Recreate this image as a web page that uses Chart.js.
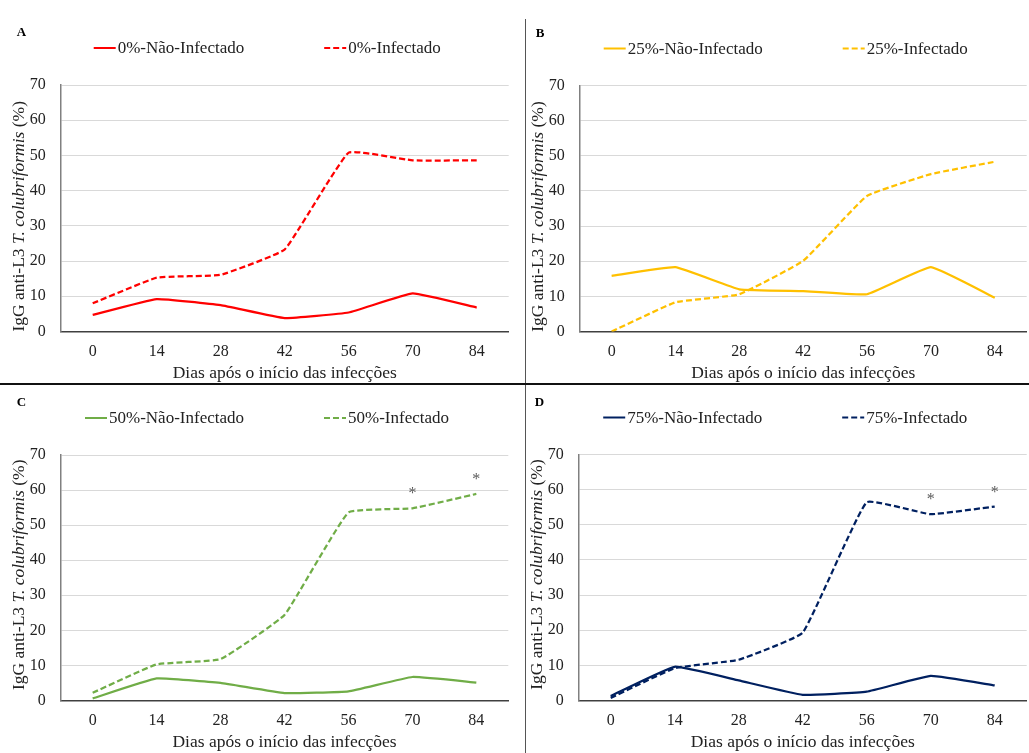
<!DOCTYPE html>
<html><head><meta charset="utf-8">
<script src="https://cdn.jsdelivr.net/npm/chart.js@4.4.0/dist/chart.umd.min.js"></script>
<style>
html,body{margin:0;padding:0;background:#fff;overflow:hidden}
#wrap{position:relative;width:1029px;height:753px}
.pn{position:absolute}
.vl{position:absolute;left:524.5px;top:19px;width:1.5px;height:734px;background:#555}
.hl{position:absolute;left:0;top:383px;width:1029px;height:2px;background:#111}
</style></head><body>
<div id="wrap">
  <div class="pn" style="left:0;top:0;width:525px;height:384px"><canvas id="cA"></canvas></div>
  <div class="pn" style="left:526px;top:0;width:503px;height:384px"><canvas id="cB"></canvas></div>
  <div class="pn" style="left:0;top:385px;width:525px;height:368px"><canvas id="cC"></canvas></div>
  <div class="pn" style="left:526px;top:385px;width:503px;height:368px"><canvas id="cD"></canvas></div>
  <div class="vl"></div><div class="hl"></div>
</div>
<script>
// dados
const dias=['0','14','28','42','56','70','84'];
const yMin=0,yMax=70,yStep=10;

const naoA=[4.7,9.2,7.5,3.8,5.4,10.8,6.8];
const infA=[8.0,15.3,16.1,23.3,50.8,48.6,48.6];
const naoB=[15.8,18.3,12.0,11.5,10.6,18.3,9.6];
const infB=[0.0,8.3,10.6,20.1,38.6,44.8,48.3];
const naoC=[0.6,6.3,5.0,2.1,2.6,6.7,5.1];
const infC=[2.2,10.3,11.8,24.4,53.6,54.8,58.9];
const naoD=[1.3,9.6,5.7,1.6,2.5,7.0,4.3];
const infD=[0.75,9.2,11.6,19.3,56.4,53.0,55.2];

const starsA=['','','','','','',''];
const starsB=['','','','','','',''];
const starsC=['','','','','','*','*'];
const starsD=['','','','','','*','*'];

const FONT='"Liberation Serif","Times New Roman",serif';
const TXT='#222';

// letra, legenda, título do eixo y e asteriscos
const deco={id:'deco',afterDraw(ch){
  const o=ch.options.plugins.deco,ctx=ch.ctx,a=ch.chartArea;
  ctx.save();
  ctx.font='bold 13px '+FONT;ctx.fillStyle='#000';ctx.textBaseline='middle';ctx.textAlign='left';
  ctx.fillText(o.letter,a.left-44,a.top-52);

  ctx.font='17px '+FONT;
  const ds=ch.data.datasets;
  const ws=ds.map(d=>24+ctx.measureText(d.label).width);
  const gap=80;
  let x=(a.left+a.right)/2-17.5-(ws[0]+ws[1]+gap)/2;
  const ly=a.top-37;
  ds.forEach((d,i)=>{
    ctx.strokeStyle=d.borderColor;ctx.lineWidth=2;ctx.setLineDash(d.borderDash||[]);
    ctx.beginPath();ctx.moveTo(x,ly);ctx.lineTo(x+22,ly);ctx.stroke();
    ctx.setLineDash([]);
    ctx.fillStyle=TXT;ctx.fillText(d.label,x+24,ly+1);
    x+=ws[i]+gap;
  });

  // título y com parte em itálico
  const fs='17.5px ';
  const parts=[['IgG anti-L3 ',fs+FONT],['T. colubriformis','italic '+fs+FONT],[' (%)',fs+FONT]];
  let W=0;parts.forEach(p=>{ctx.font=p[1];W+=ctx.measureText(p[0]).width});
  ctx.save();
  ctx.translate(a.left-41.7,(a.top+a.bottom)/2+o.titleShift);
  ctx.rotate(-Math.PI/2);
  let tx=-W/2;
  parts.forEach(p=>{ctx.font=p[1];ctx.fillText(p[0],tx,0);tx+=ctx.measureText(p[0]).width});
  ctx.restore();

  const meta=ch.getDatasetMeta(1);
  ctx.font='16px '+FONT;ctx.fillStyle='#595959';ctx.textAlign='center';ctx.textBaseline='alphabetic';
  o.stars.forEach((s,i)=>{if(!s)return;const p=meta.data[i];ctx.fillText(s,p.x,p.y-10)});
  ctx.restore();
}};

function painel(id,letter,pct,nao,inf,color,stars,pad,axisW,titleShift){
  return new Chart(document.getElementById(id),{
    type:'line',
    data:{labels:dias,datasets:[
      {label:pct+'-Não-Infectado',data:nao,borderColor:color,borderWidth:2.25,pointRadius:0,tension:0.1},
      {label:pct+'-Infectado',data:inf,borderColor:color,borderWidth:2.25,borderDash:[6,3],pointRadius:0,tension:0.1}
    ]},
    options:{responsive:true,maintainAspectRatio:false,animation:false,devicePixelRatio:1,
      layout:{padding:pad},
      plugins:{legend:{display:false},tooltip:{enabled:false},deco:{letter,stars,titleShift}},
      scales:{
        x:{offset:true,grid:{drawOnChartArea:false,drawTicks:false},border:{color:'#404040',width:1.5},
          ticks:{color:TXT,font:{family:FONT,size:16},padding:11,maxRotation:0},
          title:{display:true,text:'Dias após o início das infecções',color:TXT,font:{family:FONT,size:17.5},padding:0},
          afterFit:s=>{s.height=52.5}},
        y:{min:yMin,max:yMax,ticks:{stepSize:yStep,color:TXT,font:{family:FONT,size:16},padding:15},
          grid:{color:'#d9d9d9',lineWidth:1,drawTicks:false},border:{color:'#808080',width:1.5},
          afterFit:s=>{s.width=axisW}}
      }},
    plugins:[deco]
  });
}

painel('cA','A','0%',naoA,infA,'#ff0000',starsA,{top:85,right:16.3,left:0,bottom:0},60.7,8);
painel('cB','B','25%',naoB,infB,'#ffc000',starsB,{top:85.5,right:2.3,left:0,bottom:0},53.7,8);
painel('cC','C','50%',naoC,infC,'#70ad47',starsC,{top:70,right:16.7,left:0,bottom:0},60.7,-3);
painel('cD','D','75%',naoD,infD,'#002060',starsD,{top:69.5,right:2.3,left:0,bottom:0},52.7,-3);
</script>
</body></html>
